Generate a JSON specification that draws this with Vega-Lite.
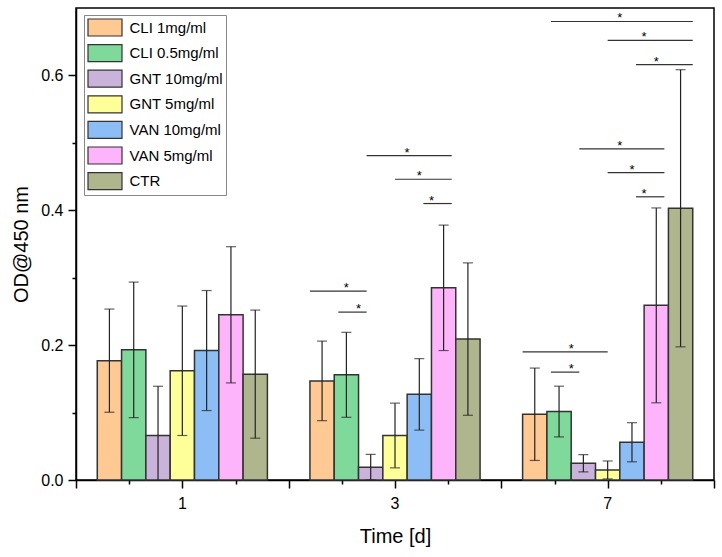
{
  "$schema": "https://vega.github.io/schema/vega-lite/v6.json",
  "width": 638,
  "height": 472,
  "autosize": "none",
  "padding": {"left": 76, "top": 8, "right": 8, "bottom": 77},
  "config": {
    "font": "Liberation Sans",
    "view": {"stroke": "black", "strokeWidth": 1.5},
    "axis": {"labelFont": "Liberation Sans", "titleFont": "Liberation Sans", "labelColor": "black", "titleColor": "black", "titleFontWeight": "normal", "domainColor": "black", "tickColor": "black", "grid": false},
    "legend": {
      "orient": "none", "legendX": 8, "legendY": 7, "title": null,
      "labelFont": "Liberation Sans", "labelFontSize": 15, "labelColor": "black",
      "symbolType": "M-2,-1H2V1H-2Z", "symbolSize": 289,
      "symbolStrokeColor": "#333", "symbolStrokeWidth": 1.2, "symbolOpacity": 1,
      "strokeColor": "#888", "fillColor": "white", "padding": 3, "rowPadding": 2.6,
      "symbolOffset": 8.5, "labelOffset": 15
    }
  },
  "datasets": {
    "bars": [
      {"group": "1", "series": "CLI 1mg/ml", "value": 0.177, "err": 0.0765},
      {"group": "1", "series": "CLI 0.5mg/ml", "value": 0.193, "err": 0.1005},
      {"group": "1", "series": "GNT 10mg/ml", "value": 0.066, "err": 0.073},
      {"group": "1", "series": "GNT 5mg/ml", "value": 0.162, "err": 0.096},
      {"group": "1", "series": "VAN 10mg/ml", "value": 0.192, "err": 0.089},
      {"group": "1", "series": "VAN 5mg/ml", "value": 0.245, "err": 0.101},
      {"group": "1", "series": "CTR", "value": 0.157, "err": 0.095},
      {"group": "3", "series": "CLI 1mg/ml", "value": 0.147, "err": 0.059},
      {"group": "3", "series": "CLI 0.5mg/ml", "value": 0.156, "err": 0.063},
      {"group": "3", "series": "GNT 10mg/ml", "value": 0.019, "err": 0.019},
      {"group": "3", "series": "GNT 5mg/ml", "value": 0.066, "err": 0.048},
      {"group": "3", "series": "VAN 10mg/ml", "value": 0.127, "err": 0.053},
      {"group": "3", "series": "VAN 5mg/ml", "value": 0.285, "err": 0.093},
      {"group": "3", "series": "CTR", "value": 0.209, "err": 0.113},
      {"group": "7", "series": "CLI 1mg/ml", "value": 0.0975, "err": 0.0685},
      {"group": "7", "series": "CLI 0.5mg/ml", "value": 0.1015, "err": 0.0376},
      {"group": "7", "series": "GNT 10mg/ml", "value": 0.0248, "err": 0.0128},
      {"group": "7", "series": "GNT 5mg/ml", "value": 0.0149, "err": 0.0133},
      {"group": "7", "series": "VAN 10mg/ml", "value": 0.056, "err": 0.029},
      {"group": "7", "series": "VAN 5mg/ml", "value": 0.259, "err": 0.1445},
      {"group": "7", "series": "CTR", "value": 0.403, "err": 0.2055}
    ],
    "brackets": [
      {"group": "3", "from": "CLI 1mg/ml", "to": "GNT 10mg/ml", "y": 0.280},
      {"group": "3", "from": "CLI 0.5mg/ml", "to": "GNT 10mg/ml", "y": 0.249},
      {"group": "3", "from": "GNT 10mg/ml", "to": "VAN 5mg/ml", "y": 0.481},
      {"group": "3", "from": "GNT 5mg/ml", "to": "VAN 5mg/ml", "y": 0.446},
      {"group": "3", "from": "VAN 10mg/ml", "to": "VAN 5mg/ml", "y": 0.410},
      {"group": "7", "from": "CLI 1mg/ml", "to": "GNT 5mg/ml", "y": 0.190},
      {"group": "7", "from": "CLI 0.5mg/ml", "to": "GNT 10mg/ml", "y": 0.160},
      {"group": "7", "from": "GNT 10mg/ml", "to": "VAN 5mg/ml", "y": 0.491},
      {"group": "7", "from": "GNT 5mg/ml", "to": "VAN 5mg/ml", "y": 0.456},
      {"group": "7", "from": "VAN 10mg/ml", "to": "VAN 5mg/ml", "y": 0.420},
      {"group": "7", "from": "CLI 0.5mg/ml", "to": "CTR", "y": 0.680},
      {"group": "7", "from": "GNT 5mg/ml", "to": "CTR", "y": 0.652},
      {"group": "7", "from": "VAN 10mg/ml", "to": "CTR", "y": 0.616}
    ],
    "order": [
      {"series": "CLI 1mg/ml", "idx": 0},
      {"series": "CLI 0.5mg/ml", "idx": 1},
      {"series": "GNT 10mg/ml", "idx": 2},
      {"series": "GNT 5mg/ml", "idx": 3},
      {"series": "VAN 10mg/ml", "idx": 4},
      {"series": "VAN 5mg/ml", "idx": 5},
      {"series": "CTR", "idx": 6}
    ]
  },
  "layer": [
    {
      "layer": [
        {
          "data": {"name": "bars"},
          "mark": {"type": "bar", "stroke": "#333", "strokeWidth": 1.5},
          "encoding": {
            "x": {"field": "group", "type": "nominal", "scale": {"paddingInner": 0.2, "paddingOuter": 0.1},
                  "axis": {"title": "Time [d]", "orient": "bottom", "ticks": false, "domain": false, "labelAngle": 0, "labelFontSize": 16, "labelPadding": 15, "titleFontSize": 20, "titlePadding": 15}},
            "xOffset": {"field": "series", "type": "nominal", "scale": {"domain": ["CLI 1mg/ml", "CLI 0.5mg/ml", "GNT 10mg/ml", "GNT 5mg/ml", "VAN 10mg/ml", "VAN 5mg/ml", "CTR"], "paddingInner": 0, "paddingOuter": 0}},
            "y": {"field": "value", "type": "quantitative", "scale": {"domain": [0, 0.7], "nice": false},
                  "axis": {"title": "OD@450 nm", "values": [0, 0.1, 0.2, 0.3, 0.4, 0.5, 0.6],
                           "labelExpr": "round(datum.value*10) % 2 === 0 ? format(datum.value, '.1f') : ''",
                           "tickSize": {"condition": {"test": "round(datum.value*10) % 2 === 0", "value": 8}, "value": 4},
                           "tickWidth": 1.5, "domainWidth": 1.5, "labelFontSize": 16, "labelPadding": 5, "titleFontSize": 20, "titlePadding": 9}},
            "color": {"field": "series", "type": "nominal",
                      "scale": {"domain": ["CLI 1mg/ml", "CLI 0.5mg/ml", "GNT 10mg/ml", "GNT 5mg/ml", "VAN 10mg/ml", "VAN 5mg/ml", "CTR"],
                                "range": ["#FFC994", "#7FD99A", "#C9B3DA", "#FFFF99", "#8DBDF5", "#FEB4FA", "#AFB68E"]}}
          }
        },
        {
          "data": {"name": "bars"},
          "mark": {"type": "errorbar", "clip": true, "ticks": {"size": 10, "color": "#222", "thickness": 1.2}, "rule": {"color": "#222", "strokeWidth": 1.2}},
          "encoding": {
            "x": {"field": "group", "type": "nominal", "axis": {"title": "Time [d]"}},
            "xOffset": {"field": "series", "type": "nominal", "scale": {"domain": ["CLI 1mg/ml", "CLI 0.5mg/ml", "GNT 10mg/ml", "GNT 5mg/ml", "VAN 10mg/ml", "VAN 5mg/ml", "CTR"], "paddingInner": 0, "paddingOuter": 0}},
            "y": {"field": "value", "type": "quantitative", "axis": {"title": "OD@450 nm"}},
            "yError": {"field": "err"}
          }
        },
        {
          "data": {"name": "brackets"},
          "transform": [{"fold": ["from", "to"], "as": ["end", "series"]}],
          "mark": {"type": "line", "color": "#333", "strokeWidth": 1.2},
          "encoding": {
            "x": {"field": "group", "type": "nominal", "axis": {"title": "Time [d]"}},
            "xOffset": {"field": "series", "type": "nominal", "scale": {"domain": ["CLI 1mg/ml", "CLI 0.5mg/ml", "GNT 10mg/ml", "GNT 5mg/ml", "VAN 10mg/ml", "VAN 5mg/ml", "CTR"], "paddingInner": 0, "paddingOuter": 0}},
            "y": {"field": "y", "type": "quantitative", "axis": {"title": "OD@450 nm"}},
            "detail": [{"field": "group"}, {"field": "from"}, {"field": "to"}]
          }
        },
        {
          "data": {"name": "brackets"},
          "transform": [
            {"fold": ["from", "to"], "as": ["end", "series"]},
            {"lookup": "series", "from": {"data": {"name": "order"}, "key": "series", "fields": ["idx"]}},
            {"aggregate": [{"op": "mean", "field": "idx", "as": "mid"}], "groupby": ["group", "from", "to", "y"]}
          ],
          "mark": {"type": "text", "text": "*", "fontSize": 13, "baseline": "alphabetic", "dy": 1, "color": "black"},
          "encoding": {
            "x": {"field": "group", "type": "nominal", "axis": {"title": "Time [d]"}},
            "xOffset": {"field": "mid", "type": "quantitative", "scale": {"domain": [-0.5, 6.5], "nice": false, "zero": false}},
            "y": {"field": "y", "type": "quantitative", "axis": {"title": "OD@450 nm"}}
          }
        }
      ],
      "resolve": {"scale": {"xOffset": "independent"}}
    },
    {
      "data": {"values": [{}]},
      "mark": {"type": "point", "opacity": 0},
      "encoding": {
        "x": {"datum": 0, "type": "quantitative", "scale": {"domain": [0, 6], "nice": false},
              "axis": {"orient": "bottom", "title": null, "labels": false, "values": [0, 0.5, 1, 1.5, 2, 2.5, 3, 3.5, 4, 4.5, 5, 5.5, 6],
                       "tickSize": {"condition": {"test": "datum.value % 1 === 0", "value": 8}, "value": 4},
                       "tickWidth": 1.5, "domainWidth": 1.5}}
      }
    }
  ],
  "resolve": {"scale": {"x": "independent"}}
}
